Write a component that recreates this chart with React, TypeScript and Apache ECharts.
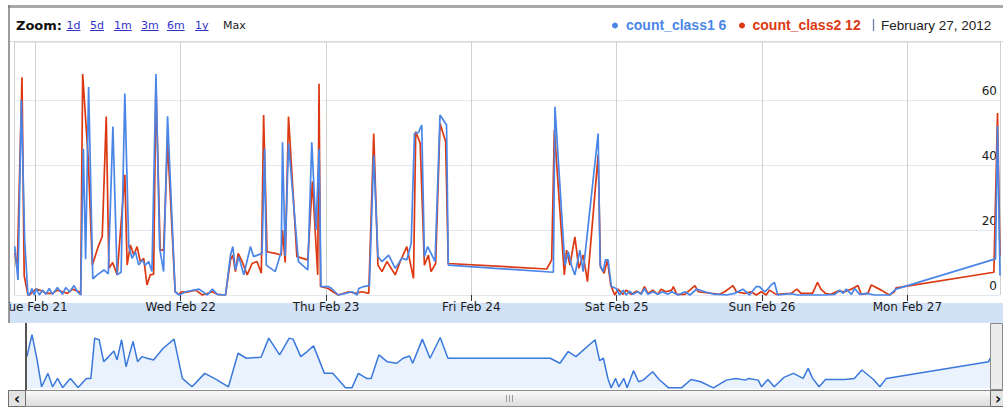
import React, { useEffect, useRef } from "react";
import * as echarts from "echarts";

// ---------- data (hours after Tue Feb 21 2012 00:00, local time) ----------
const baseYear = 2012;
const baseMonth = 1; // February (0-based)
const baseDay = 21;
const rangeStartHour = -3.4;
const rangeEndHour = 159.3;

const dayNames = ["Sun", "Mon", "Tue", "Wed", "Thu", "Fri", "Sat"];
const monthNames = ["Jan", "Feb", "Mar", "Apr", "May", "Jun", "Jul", "Aug", "Sep", "Oct", "Nov", "Dec"];
const monthLongNames = ["January", "February", "March", "April", "May", "June", "July", "August", "September", "October", "November", "December"];
const zoomLinks = ["1d", "5d", "1m", "3m", "6m", "1y"];
const seriesNames = ["count_class1", "count_class2"];

const class1Hours = [
  -3.4, -2.86, -2.3, -1.76, -1.22, -0.99, -0.56, -0.16, 0.21, 0.66,
  1.2, 1.74, 2.3, 2.84, 3.66, 4.48, 5.02, 5.68, 6.4, 6.95,
  7.49, 7.93, 8.31, 8.8, 9.49, 10.23, 11.33, 12.04, 12.81, 13.51,
  14.17, 14.78, 15.43, 15.98, 16.52, 17.08, 17.62, 18.16, 18.72, 19.26,
  19.92, 20.53, 21.18, 21.84, 23.09, 23.74, 24.84, 27.03, 28.41, 29.23,
  30.05, 31.41, 32.23, 32.61, 33.05, 33.6, 34.42, 35.52, 36.06, 37.44,
  37.86, 38.14, 39.62, 40.61, 40.82, 41.26, 41.81, 43.45, 44.99, 45.65,
  46.35, 46.85, 47.18, 48.37, 48.93, 50.02, 51.23, 52.31, 53.14, 53.41,
  54.23, 55.17, 55.88, 56.58, 57.24, 58.34, 59.44, 60.53, 61.35, 62.07,
  62.61, 63.27, 63.81, 64.25, 64.79, 66.01, 66.83, 67.91, 68.19, 85.55,
  85.81, 87.45, 88.01, 88.55, 89.1, 89.92, 90.47, 92.94, 93.27, 93.76,
  94.14, 94.58, 95.12, 95.94, 96.48, 97.04, 97.58, 98.13, 98.68, 99.5,
  100.05, 100.59, 101.15, 101.97, 102.79, 103.61, 104.43, 105.09, 106.17, 107.27,
  108.1, 109.19, 110.56, 112.2, 113.02, 114.12, 115.48, 116.85, 117.95, 119.05,
  119.59, 120.41, 120.95, 121.51, 122.05, 122.59, 124.79, 125.88, 128.08, 130.26,
  132.02, 132.84, 133.38, 133.93, 134.75, 135.3, 136.13, 137.21, 138.59, 141.05,
  142.13, 158.56, 158.89, 159.3,
];
const class1Values = [
  15, 4.6, 60, 17, 0, 0, 2, 0, 2, 0,
  1.5, 0.2, 2, 0.2, 2.3, 0.2, 2.3, 1, 2.9, 1,
  0, 45, 11, 64, 5, 6.2, 7.7, 6.5, 51.8, 6.2,
  7, 62, 14.9, 11.3, 13.3, 9.2, 10.8, 9.2, 10.3, 7.2,
  68, 14.4, 7.2, 55, 1, 0, 1, 1.8, 0, 1.8,
  0.2, 0, 12.3, 14.9, 7.7, 11.8, 6.2, 14.9, 11.8, 12.8,
  45, 9.2, 7.2, 13.3, 47, 12, 46.7, 10.3, 7.7, 47,
  20, 45, 2.6, 2.6, 2, 0, 0.5, 1, 0, 2,
  2.6, 2.9, 43, 11.8, 10.3, 12.3, 8.2, 11.3, 10.8, 15.9,
  49.7, 50, 52.3, 11.8, 14.9, 10.3, 55.4, 52.3, 9.2, 7,
  57.9, 9.2, 13.3, 9, 6.2, 13.8, 7.2, 49.7, 9.2, 7.2,
  10.8, 10.8, 2.6, 2, 0, 1.5, 0, 1.2, 0.2, 1,
  0.2, 2, 0.2, 1, 0.2, 1, 0.2, 1, 0, 1,
  0, 1.8, 1, 0.2, 0.2, 0, 0.5, 1.8, 0, 2.6,
  2.6, 1, 1.8, 3.1, 3.9, 0, 0.4, 0, 0, 0,
  0.2, 1.5, 0.5, 1.8, 0.2, 2, 0.2, 0.5, 0, 0,
  1.8, 11.1, 52, 6,
];

const class2Hours = [
  -3.4, -2.99, -2.2, -1.84, -1.22, -0.99, 0.1, 0.92, 1.74, 2.84,
  3.66, 4.48, 5.3, 6.13, 7.23, 7.49, 7.82, 8.75, 9.41, 10.39,
  11.05, 11.71, 12.15, 12.78, 13.51, 14.78, 15.16, 15.7, 16.26, 16.8,
  17.34, 17.9, 18.44, 18.98, 19.54, 19.92, 20.62, 21.18, 21.84, 23.09,
  23.65, 24.19, 24.84, 26.49, 27.59, 29.23, 30.05, 31.41, 32.23, 32.61,
  33.05, 33.5, 34.15, 34.98, 35.8, 36.62, 37.32, 37.7, 38.26, 39.62,
  40.61, 40.82, 41.26, 41.81, 43.19, 44.99, 45.75, 46.63, 46.85, 47.09,
  48.37, 49.15, 50.02, 51.77, 52.87, 53.96, 55.06, 55.88, 56.58, 57.24,
  58.06, 59.44, 60.26, 61.35, 62.45, 62.82, 63.55, 64.25, 64.91, 65.35,
  66.11, 66.83, 67.75, 68.19, 84.45, 85.27, 85.71, 87.36, 87.73, 88.28,
  89.1, 89.75, 90.47, 91.18, 92.94, 93.32, 93.92, 94.47, 95.01, 95.67,
  96.22, 97.04, 97.58, 98.41, 99.23, 100.05, 100.59, 101.15, 101.97, 102.79,
  103.33, 104.15, 105.09, 105.36, 105.91, 107.27, 108.92, 109.46, 111.66, 113.02,
  113.84, 115.21, 115.76, 117.13, 118.23, 119.05, 119.87, 120.69, 121.23, 122.33,
  124.79, 125.78, 126.44, 128.34, 129.16, 129.72, 130.54, 131.36, 132.56, 133.66,
  134.75, 135.85, 136.39, 137.49, 138.04, 139.68, 141.05, 141.87, 142.13, 158.29,
  158.89, 159.3,
];
const class2Values = [
  13, 8, 67, 6, 0, 0, 1.8, 1.4, 0.5, 0.5,
  1.5, 1, 0.5, 1.8, 1, 0, 68, 41.5, 9.2, 14.9,
  18, 54.9, 8.2, 10, 6.2, 37, 9.2, 15.4, 12.3, 14.9,
  10.3, 11.3, 3.1, 6.2, 6.4, 65, 13.8, 13.8, 47.2, 1,
  0.2, 1, 0.8, 1.5, 0, 1, 0.2, 0, 10.8, 12.3,
  7.2, 12.8, 10.3, 6.2, 9.7, 10.3, 6.7, 55.4, 13.3, 12.8,
  12.3, 20, 10, 54.9, 11.8, 10.8, 34.9, 6.2, 65, 2.6,
  2, 1, 0, 1, 0.5, 1, 0.5, 49.7, 9.2, 7.2,
  10.3, 6.2, 10.3, 14.9, 5.1, 50.3, 46.7, 9.2, 12.3, 7.2,
  9.7, 52.8, 47.2, 9.7, 8, 10.8, 50.8, 6.2, 13.8, 9.2,
  17.9, 8.2, 12.3, 4.1, 43.1, 8.7, 6.7, 10.8, 3.1, 0,
  1.8, 0.2, 1.5, 0.2, 1.2, 0.4, 2.6, 0.5, 1.5, 0.2,
  1.8, 1, 1.5, 2.6, 0.2, 0.2, 2.9, 1, 0.5, 0.2,
  1, 2.9, 1, 0.5, 1, 0, 1, 0, 1.5, 0.2,
  0.5, 1.8, 0.5, 0.5, 3.9, 1.8, 0.4, 0.2, 1.2, 1,
  1.8, 2.9, 0.2, 0.5, 3.1, 1.5, 0, 1, 2.2, 7,
  56, 12,
];

// range-selector overview line (relative height, 0..100)
const navHours = [
  -3.25, -2.39, -1.53, -0.77, 0.31, 1.07, 1.93, 2.79, 4.09, 5.39,
  6.79, 7.55, 8.19, 8.95, 9.71, 10.57, 11.43, 11.97, 12.73, 13.49,
  14.03, 14.67, 15.43, 16.19, 17.05, 18.13, 19.75, 21.59, 22.99, 24.61,
  26.77, 28.39, 30.77, 32.39, 33.79, 36.27, 37.57, 39.41, 41.03, 41.67,
  42.97, 44.05, 45.13, 46.97, 48.37, 50.53, 51.61, 52.69, 54.09, 54.85,
  56.15, 57.55, 59.17, 60.25, 61.33, 61.87, 63.49, 64.79, 66.51, 67.81,
  85.09, 86.71, 88.11, 89.41, 92.65, 93.41, 94.05, 94.81, 95.35, 96.11,
  96.65, 97.51, 98.05, 99.13, 99.99, 100.75, 102.37, 103.45, 105.07, 107.23,
  108.85, 110.47, 112.63, 114.79, 116.41, 118.03, 118.57, 120.19, 120.73, 121.81,
  122.89, 124.51, 126.13, 127.75, 128.61, 129.37, 130.45, 131.53, 134.77, 136.39,
  137.69, 139.63, 140.71, 141.79, 159.07, 159.3,
];
const navLevels = [
  48.7, 82.1, 43.6, 2.6, 23.1, 2.6, 15.4, 1.5, 15.4, 1.5,
  15.4, 15.4, 76.9, 74.4, 41, 48.7, 57.4, 43.6, 74.4, 33.3,
  51.3, 71.8, 41, 48.7, 46.2, 43.6, 61.5, 75.4, 15.4, 2.6,
  23.1, 15.4, 2.6, 53.8, 46.2, 47.7, 76.9, 51.3, 76.9, 75.4,
  48.7, 56.4, 65.1, 23.1, 23.1, 1, 1, 23.1, 15.4, 15.4,
  51.3, 41, 38.5, 46.2, 49.7, 38.5, 75.4, 46.2, 77.9, 46.2,
  46.2, 38.5, 56.4, 48.7, 74.4, 42.6, 46.2, 15.4, 1, 15.4,
  2.6, 15.4, 1, 27.2, 10.3, 12.8, 25.6, 13.8, 1, 1,
  13.8, 10.3, 1, 12.8, 15.4, 12.8, 15.4, 12.8, 2.6, 13.8,
  2.6, 16.9, 23.1, 15.4, 30.8, 15.4, 2.6, 13.8, 13.8, 15.4,
  28.2, 13.8, 2.6, 15.4, 41, 46.2,
];

// ---------- helpers ----------
const BASE = new Date(baseYear, baseMonth, baseDay, 0, 0, 0).getTime();
const HOUR = 3600 * 1000;
const toTime = (h: number) => BASE + h * HOUR;
const pairs = (hours: number[], vals: number[]) => {
  const n = Math.min(hours.length, vals.length);
  const out: [number, number][] = [];
  for (let i = 0; i < n; i++) out.push([toTime(hours[i]), vals[i]]);
  return out;
};

const BLUE = "#4a86e8";
const RED = "#dc3912";
const UI_FONT = "'Liberation Sans', Arial, sans-serif";
const AXIS_FONT = "'DejaVu Sans', Verdana, sans-serif";

function measure(text: string, font: string) {
  const c = document.createElement("canvas").getContext("2d");
  if (!c) return text.length * 7;
  c.font = font;
  return c.measureText(text).width;
}

export default function App() {
  const ref = useRef<HTMLDivElement>(null);

  useEffect(() => {
    if (!ref.current) return;
    const chart = echarts.init(ref.current, undefined, { renderer: "svg" });

    const data1 = pairs(class1Hours, class1Values);
    const data2 = pairs(class2Hours, class2Values);
    const navData = pairs(navHours, navLevels);
    const last1 = class1Values[class1Values.length - 1];
    const last2 = class2Values[class2Values.length - 1];
    const lastDate = new Date(toTime(class1Hours[class1Hours.length - 1]));
    const dateText = `${monthLongNames[lastDate.getMonth()]} ${lastDate.getDate()}, ${lastDate.getFullYear()}`;

    const xMin = toTime(rangeStartHour);
    const xMax = toTime(rangeEndHour);
    const DAY = 24 * HOUR;

    // header: zoom links
    const linkX = [66.5, 90, 114, 141, 167, 195];
    const linkFont = `11px ${AXIS_FONT}`;
    const linkEls: any[] = [];
    zoomLinks.forEach((l, i) => {
      const w = measure(l, linkFont);
      linkEls.push({
        type: "text", x: linkX[i], y: 25, z: 20,
        style: { text: l, fill: "#3232c8", font: linkFont, verticalAlign: "middle" },
      });
      linkEls.push({
        type: "line", z: 20,
        shape: { x1: linkX[i], y1: 30.5, x2: linkX[i] + w, y2: 30.5 },
        style: { stroke: "#3232c8", lineWidth: 1 },
      });
    });

    const option: any = {
      animation: false,
      backgroundColor: "#ffffff",
      grid: [
        { left: 10, right: 3, top: 42, bottom: 410 - 295, containLabel: false },
        { left: 26, right: 13, top: 323, bottom: 410 - 388.5, containLabel: false },
      ],
      xAxis: [
        {
          type: "time",
          gridIndex: 0,
          min: xMin,
          max: xMax,
          minInterval: DAY,
          maxInterval: DAY,
          offset: 2,
          axisLine: { show: false },
          axisTick: { show: true, length: 6, lineStyle: { color: "#333", width: 1 } },
          splitLine: { show: true, lineStyle: { color: "#cdd2cd", width: 1 } },
          axisLabel: {
            show: true,
            margin: 4,
            color: "#1a1a1a",
            fontSize: 12,
            fontFamily: AXIS_FONT,
            hideOverlap: false,
            formatter: (v: number) => {
              const d = new Date(v);
              if (d.getHours() !== 0 || d.getMinutes() !== 0) return "";
              return `${dayNames[d.getDay()]} ${monthNames[d.getMonth()]} ${d.getDate()}`;
            },
          },
        },
        {
          type: "time",
          gridIndex: 1,
          min: xMin,
          max: xMax,
          show: false,
        },
      ],
      yAxis: [
        {
          type: "value",
          gridIndex: 0,
          position: "right",
          min: 0,
          max: 253 / 3.25,
          interval: 20,
          axisLine: { show: false },
          axisTick: { show: false },
          splitLine: { show: true, lineStyle: { color: "#e6e6f0", width: 1 } },
          axisLabel: {
            inside: true,
            margin: 3,
            color: "#1a1a1a",
            fontSize: 12,
            fontFamily: AXIS_FONT,
            verticalAlign: "bottom",
            padding: [0, 0, 3, 0],
            showMaxLabel: false,
          },
        },
        {
          type: "value",
          gridIndex: 1,
          min: 0,
          max: 100,
          show: false,
          splitLine: { show: false },
        },
      ],
      series: [
        {
          name: seriesNames[0],
          type: "line",
          xAxisIndex: 0,
          yAxisIndex: 0,
          data: data1,
          showSymbol: false,
          clip: false,
          z: 4,
          lineStyle: { color: BLUE, width: 1.7 },
          itemStyle: { color: BLUE },
        },
        {
          name: seriesNames[1],
          type: "line",
          xAxisIndex: 0,
          yAxisIndex: 0,
          data: data2,
          showSymbol: false,
          clip: false,
          z: 3,
          lineStyle: { color: RED, width: 1.7 },
          itemStyle: { color: RED },
        },
        {
          name: "overview",
          type: "line",
          xAxisIndex: 1,
          yAxisIndex: 1,
          data: navData,
          showSymbol: false,
          z: 2,
          lineStyle: { color: "#3b78dc", width: 1.5 },
          areaStyle: { color: "#eaf3fd", opacity: 1 },
        },
      ],
      graphic: [
        // x-axis label band
        { type: "rect", z: -1, shape: { x: 9, y: 303, width: 994, height: 20 }, style: { fill: "#d2e2f6" } },
        // cover label overflow at the far left
        { type: "rect", z: 50, shape: { x: 0, y: 296, width: 9, height: 30 }, style: { fill: "#ffffff" } },
        // top frame
        { type: "rect", z: 60, shape: { x: 8, y: 5, width: 995, height: 3 }, style: { fill: "#a9a9a9" } },
        // left frame
        { type: "line", z: 60, shape: { x1: 9, y1: 5, x2: 9, y2: 323 }, style: { stroke: "#7b7b7b", lineWidth: 1.5 } },
        // header separator
        { type: "line", z: 60, shape: { x1: 10, y1: 41.5, x2: 1003, y2: 41.5 }, style: { stroke: "#d8d8d8", lineWidth: 1 } },
        // header texts
        {
          type: "text", x: 16, y: 25, z: 20,
          style: { text: "Zoom:", fill: "#111", font: `bold 13px ${AXIS_FONT}`, verticalAlign: "middle" },
        },
        ...linkEls,
        {
          type: "text", x: 223, y: 25, z: 20,
          style: { text: "Max", fill: "#222", font: linkFont, verticalAlign: "middle" },
        },
        { type: "circle", z: 20, shape: { cx: 615, cy: 25.5, r: 3 }, style: { fill: BLUE } },
        {
          type: "text", x: 626, y: 25, z: 20,
          style: { text: `${seriesNames[0]} ${last1}`, fill: BLUE, font: `bold 14px ${UI_FONT}`, verticalAlign: "middle" },
        },
        { type: "circle", z: 20, shape: { cx: 742, cy: 25.5, r: 3 }, style: { fill: RED } },
        {
          type: "text", x: 752.5, y: 25, z: 20,
          style: { text: `${seriesNames[1]} ${last2}`, fill: RED, font: `bold 14px ${UI_FONT}`, verticalAlign: "middle" },
        },
        { type: "line", z: 20, shape: { x1: 873.5, y1: 19, x2: 873.5, y2: 31 }, style: { stroke: "#6d7fa8", lineWidth: 1.3 } },
        {
          type: "text", x: 881, y: 25, z: 20,
          style: { text: dateText, fill: "#222", font: `13.5px ${UI_FONT}`, verticalAlign: "middle" },
        },
        // range selector handles
        { type: "line", z: 30, shape: { x1: 26, y1: 323, x2: 26, y2: 390 }, style: { stroke: "#555", lineWidth: 2 } },
        { type: "rect", z: 30, shape: { x: 990.5, y: 323.5, width: 12, height: 66 }, style: { fill: "#ececec", stroke: "#8a8a8a", lineWidth: 1 } },
        // scrollbar
        {
          type: "rect", z: 30, shape: { x: 8.5, y: 390.5, width: 994, height: 16 },
          style: {
            fill: new echarts.graphic.LinearGradient(0, 0, 0, 1, [
              { offset: 0, color: "#fafafa" },
              { offset: 1, color: "#dcdcdc" },
            ]),
            stroke: "#8c8c8c", lineWidth: 1,
          },
        },
        {
          type: "rect", z: 31, shape: { x: 8.5, y: 390.5, width: 17, height: 16 },
          style: { fill: "#e4e4e4", stroke: "#6f6f6f", lineWidth: 1 },
        },
        {
          type: "text", x: 17, y: 399, z: 32,
          style: { text: "‹", fill: "#111", font: `bold 15px ${AXIS_FONT}`, align: "center", verticalAlign: "middle" },
        },
        {
          type: "rect", z: 31, shape: { x: 990.5, y: 390.5, width: 13, height: 16 },
          style: { fill: "#e4e4e4", stroke: "#6f6f6f", lineWidth: 1 },
        },
        {
          type: "text", x: 998, y: 399, z: 32,
          style: { text: "›", fill: "#111", font: `bold 15px ${AXIS_FONT}`, align: "center", verticalAlign: "middle" },
        },
        { type: "line", z: 32, shape: { x1: 506.5, y1: 395, x2: 506.5, y2: 402 }, style: { stroke: "#9a9a9a", lineWidth: 1 } },
        { type: "line", z: 32, shape: { x1: 509.5, y1: 395, x2: 509.5, y2: 402 }, style: { stroke: "#9a9a9a", lineWidth: 1 } },
        { type: "line", z: 32, shape: { x1: 512.5, y1: 395, x2: 512.5, y2: 402 }, style: { stroke: "#9a9a9a", lineWidth: 1 } },
      ],
    };

    chart.setOption(option);
    return () => chart.dispose();
  }, []);

  return (
    <div
      ref={ref}
      style={{ position: "absolute", left: 0, top: 0, width: 1003, height: 410 }}
    />
  );
}
